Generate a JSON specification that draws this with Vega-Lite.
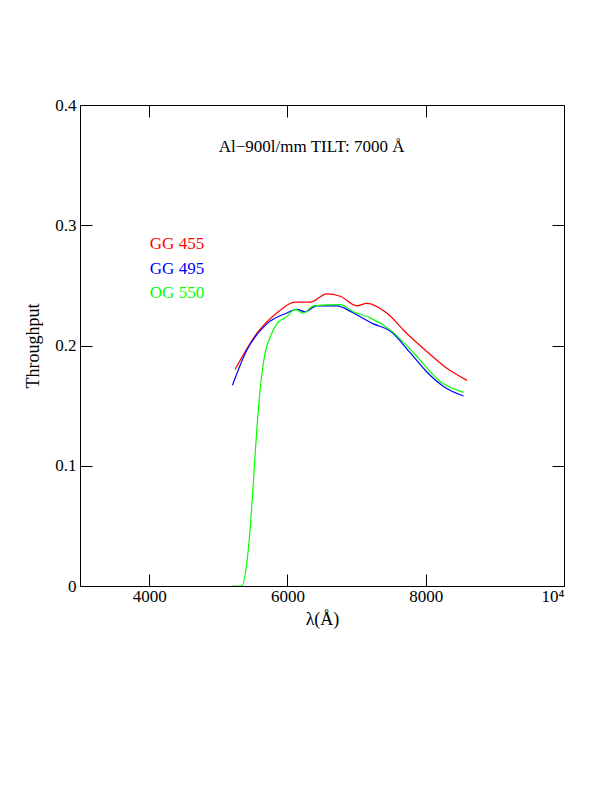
{
"$schema":"https://vega.github.io/schema/vega-lite/v6.json",
"width":484,"height":481,
"autosize":{"type":"none"},
"padding":{"left":80,"top":105,"right":48,"bottom":206},
"config":{"view":{"stroke":"black","strokeWidth":1},"font":"Liberation Serif"},
"datasets":{
"curves":[
{"f":"GG 455","w":5243,"t":0.180},{"f":"GG 455","w":5557,"t":0.210},{"f":"GG 455","w":5846,"t":0.227},{"f":"GG 455","w":6111,"t":0.236},{"f":"GG 455","w":6329,"t":0.236},{"f":"GG 455","w":6570,"t":0.243},{"f":"GG 455","w":6763,"t":0.241},{"f":"GG 455","w":7004,"t":0.233},{"f":"GG 455","w":7149,"t":0.235},{"f":"GG 455","w":7437,"t":0.227},{"f":"GG 455","w":7727,"t":0.210},{"f":"GG 455","w":8016,"t":0.195},{"f":"GG 455","w":8306,"t":0.181},{"f":"GG 455","w":8596,"t":0.171},
{"f":"GG 495","w":5205,"t":0.167},{"f":"GG 495","w":5412,"t":0.196},{"f":"GG 495","w":5702,"t":0.218},{"f":"GG 495","w":5991,"t":0.227},{"f":"GG 495","w":6135,"t":0.230},{"f":"GG 495","w":6256,"t":0.228},{"f":"GG 495","w":6424,"t":0.233},{"f":"GG 495","w":6714,"t":0.233},{"f":"GG 495","w":6955,"t":0.227},{"f":"GG 495","w":7244,"t":0.218},{"f":"GG 495","w":7486,"t":0.212},{"f":"GG 495","w":7775,"t":0.194},{"f":"GG 495","w":8016,"t":0.178},{"f":"GG 495","w":8258,"t":0.166},{"f":"GG 495","w":8547,"t":0.158},
{"f":"OG 550","w":5205,"t":0},{"f":"OG 550","w":5340,"t":0},{"f":"OG 550","w":5412,"t":0.019},{"f":"OG 550","w":5460,"t":0.047},{"f":"OG 550","w":5509,"t":0.088},{"f":"OG 550","w":5557,"t":0.130},{"f":"OG 550","w":5605,"t":0.163},{"f":"OG 550","w":5678,"t":0.194},{"f":"OG 550","w":5750,"t":0.207},{"f":"OG 550","w":5846,"t":0.218},{"f":"OG 550","w":5991,"t":0.224},{"f":"OG 550","w":6111,"t":0.230},{"f":"OG 550","w":6232,"t":0.227},{"f":"OG 550","w":6376,"t":0.233},{"f":"OG 550","w":6763,"t":0.234},{"f":"OG 550","w":6955,"t":0.228},{"f":"OG 550","w":7197,"t":0.223},{"f":"OG 550","w":7486,"t":0.213},{"f":"OG 550","w":7823,"t":0.194},{"f":"OG 550","w":8210,"t":0.170},{"f":"OG 550","w":8547,"t":0.161}
],
"labels":[
{"f":"GG 455","w":4010,"t":0.284},{"f":"GG 495","w":4010,"t":0.264},{"f":"OG 550","w":4010,"t":0.244}
],
"title":[{"f":"title","w":6350,"t":0.365,"s":"Al−900l/mm TILT: 7000 Å"}]},
"layer":[
{"data":{"name":"curves"},"mark":{"type":"line","strokeWidth":1.2,"interpolate":"monotone","clip":true},
"encoding":{
"x":{"field":"w","type":"quantitative","scale":{"domain":[3000,10000],"nice":false},"axis":{"values":[4000,6000,8000,10000],"labelExpr":"datum.value==10000?'10⁴':datum.label","format":"d","title":"λ(Å)","titlePadding":6,"domain":false,"grid":false,"tickColor":"black","tickSize":-12,"labelPadding":14,"labelFont":"Liberation Serif","titleFont":"Liberation Serif","labelFontSize":17,"titleFontSize":18,"labelColor":"black","titleColor":"black","titleFontWeight":"normal"}},
"y":{"field":"t","type":"quantitative","scale":{"domain":[0,0.4],"nice":false},"axis":{"values":[0,0.1,0.2,0.3,0.4],"labelExpr":"datum.value==0?'0':format(datum.value,'.1f')","title":"Throughput","titlePadding":12,"domain":false,"grid":false,"tickColor":"black","tickSize":-12,"labelPadding":16,"labelFont":"Liberation Serif","titleFont":"Liberation Serif","labelFontSize":17,"titleFontSize":18,"labelColor":"black","titleColor":"black","titleFontWeight":"normal"}},
"color":{"field":"f","type":"nominal","scale":{"domain":["GG 455","GG 495","OG 550","title"],"range":["#ff0000","#0000ff","#00ff00","#000000"]},"legend":null}}},
{"data":{"name":"labels"},"mark":{"type":"text","align":"left","fontSize":17,"font":"Liberation Serif","baseline":"middle"},
"encoding":{
"x":{"field":"w","type":"quantitative","axis":{"orient":"top","values":[4000,6000,8000,10000],"labels":false,"title":null,"domain":false,"grid":false,"tickColor":"black","tickSize":-12}},
"y":{"field":"t","type":"quantitative","axis":{"orient":"right","values":[0,0.1,0.2,0.3,0.4],"labels":false,"title":null,"domain":false,"grid":false,"tickColor":"black","tickSize":-12}},
"text":{"field":"f"},
"color":{"field":"f","type":"nominal","legend":null}}},
{"data":{"name":"title"},"mark":{"type":"text","align":"center","fontSize":17,"font":"Liberation Serif","baseline":"middle","color":"black"},
"encoding":{
"x":{"field":"w","type":"quantitative","axis":null},
"y":{"field":"t","type":"quantitative","axis":null},
"text":{"field":"s"}}}
],
"resolve":{"axis":{"x":"independent","y":"independent"}}
}
